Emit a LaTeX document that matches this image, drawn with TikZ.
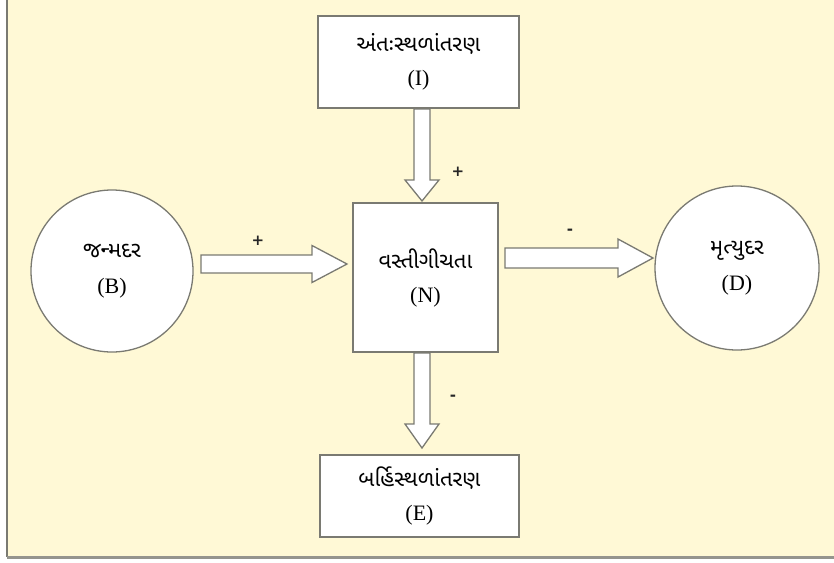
\documentclass[tikz,border=0pt]{standalone}
\usepackage{fontspec}
\setmainfont{Liberation Serif}
\newfontfamily\guj[Script=Gujarati]{Noto Sans Gujarati UI}
\newfontfamily\signfont{DejaVu Sans}
\usetikzlibrary{calc}
\definecolor{bgyel}{HTML}{FFF9D6}
\definecolor{edge}{HTML}{7A7A72}
\tikzset{
  box/.style={draw=edge, line width=1.6pt, fill=white, rectangle, inner sep=0pt, align=center, font=\fontsize{22}{34}\selectfont},
  disc/.style={draw=edge, line width=1.3pt, fill=white, circle, inner sep=0pt, align=center, font=\fontsize{22}{36}\selectfont},
  barrow/.style={draw=edge, line width=1.3pt, fill=white, line join=miter},
  sign/.style={font=\signfont\bfseries\fontsize{15}{15}\selectfont, inner sep=0pt, text=black!85}
}
% horizontal block arrow: start, tip, half shaft, half head, head length
\newcommand\myharrow[5]{%
  \draw[barrow] ($(#1)+(0,#3)$) -- ($(#2)+(-#5,#3)$) -- ($(#2)+(-#5,#4)$) -- (#2)
    -- ($(#2)+(-#5,-#4)$) -- ($(#2)+(-#5,-#3)$) -- ($(#1)+(0,-#3)$) -- cycle;}
% vertical (downward) block arrow
\newcommand\myvarrow[5]{%
  \draw[barrow] ($(#1)+(#3,0)$) -- ($(#2)+(#3,-#5)$) -- ($(#2)+(#4,-#5)$) -- (#2)
    -- ($(#2)+(-#4,-#5)$) -- ($(#2)+(-#3,-#5)$) -- ($(#1)+(-#3,0)$) -- cycle;}
\begin{document}
\begin{tikzpicture}[x=1pt,y=-1pt]
\useasboundingbox (0,0) rectangle (834,562);
\fill[white] (0,0) rectangle (834,562);
\fill[bgyel] (8,0) rectangle (834,556);
\draw[edge, line width=1.5pt] (7,0) -- (7,557);
\draw[edge!80, line width=3pt] (7,557.5) -- (834,557.5);

\node[box, minimum width=201pt, minimum height=92pt] (I) at (418.5,62)
  {{\guj અંતઃસ્થળાંતરણ}\\(I)};
\node[box, minimum width=145pt, minimum height=149pt] (N) at (425.5,277.5)
  {{\guj વસ્તીગીચતા}\\(N)};
\node[box, minimum width=199pt, minimum height=82pt] (E) at (419.5,496)
  {{\guj બર્હિસ્થળાંતરણ}\\(E)};
\node[disc, minimum size=162pt] (B) at (112,271) {{\guj જન્મદર}\\(B)};
\node[disc, minimum size=164pt] (D) at (737,268) {{\guj મૃત્યુદર}\\(D)};

% arrow end points
\coordinate (a1s) at (201,264);
\coordinate (a1t) at (347,264);
\coordinate (a2s) at (505,258);
\coordinate (a2t) at (653,258);
\coordinate (a3s) at (422,109);
\coordinate (a3t) at (422,201);
\coordinate (a4s) at (422,353);
\coordinate (a4t) at (422,448);

\myharrow{a1s}{a1t}{9}{18.5}{35}
\myharrow{a2s}{a2t}{10}{19}{35}
\myvarrow{a3s}{a3t}{8}{17}{21}
\myvarrow{a4s}{a4t}{8}{17}{24}

\node[sign] (p1) at (258,241) {+};
\node[sign] (p2) at (458,172) {+};
\node[sign] (m1) at (570,232) {-};
\node[sign] (m2) at (453,398) {-};
\end{tikzpicture}
\end{document}
